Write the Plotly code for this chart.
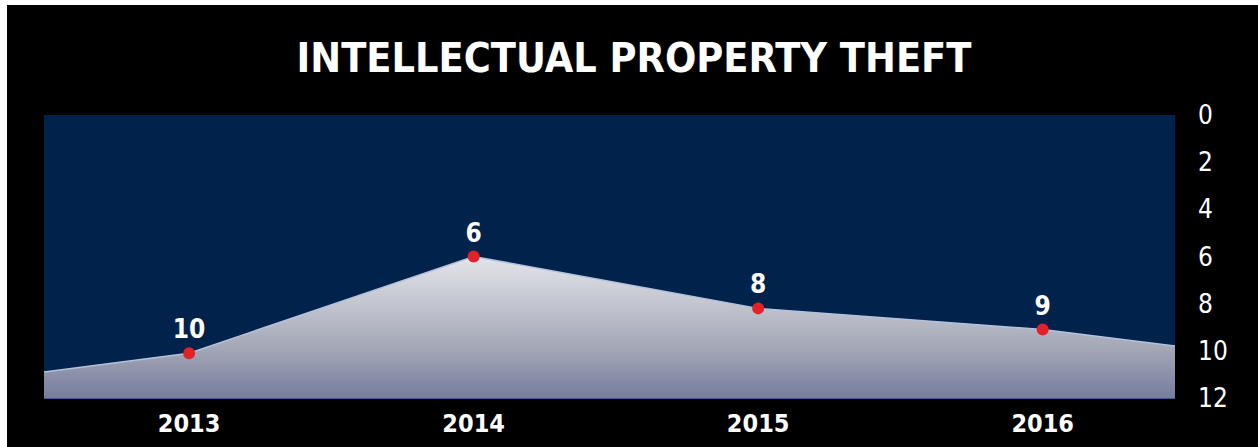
import plotly.graph_objects as go

# Data (y axis is reversed: 0 at top)
years = [2013, 2014, 2015, 2016]
values = [10.1, 6.0, 8.2, 9.1]
value_labels = ["10", "6", "8", "9"]
# line continues to the plot edges
edge_x = [2012.49, 2016.465]
edge_y = [10.9, 9.8]
y_ticks = [0, 2, 4, 6, 8, 10, 12]

line_x = [edge_x[0]] + years + [edge_x[1]]
line_y = [edge_y[0]] + values + [edge_y[1]]

FONT = "DejaVu Sans Condensed"

fig = go.Figure()

# baseline at the bottom of the reversed axis
fig.add_trace(go.Scatter(x=line_x, y=[12] * len(line_x), mode="lines",
                         line=dict(width=0), hoverinfo="skip", showlegend=False))

fig.add_trace(go.Scatter(
    x=line_x, y=line_y, mode="lines", fill="tonexty",
    line=dict(color="#b4c2dc", width=1.5),
    fillgradient=dict(type="vertical", start=12, stop=6,
                      colorscale=[[0, "#767d9e"], [0.35, "#a3a7b6"], [1, "#e4e5ea"]]),
    hoverinfo="skip", showlegend=False))

fig.add_trace(go.Scatter(
    x=years, y=values, mode="markers+text",
    marker=dict(color="#e3212b", size=12),
    text=value_labels, textposition="top center",
    textfont=dict(family=FONT, size=26, color="white", weight="bold"),
    showlegend=False))

fig.update_layout(
    width=1258, height=447,
    margin=dict(l=44, r=83, t=115, b=49, autoexpand=False),
    paper_bgcolor="black",
    plot_bgcolor="#00224b",
    title=dict(text="<b>INTELLECTUAL PROPERTY THEFT</b>", x=0.504, xref="container",
               y=0.872, yref="container", xanchor="center", yanchor="middle",
               font=dict(family=FONT, size=41, color="white")),
    xaxis=dict(range=[edge_x[0], edge_x[1]], tickvals=years,
               ticktext=[str(y) for y in years], showgrid=False, zeroline=False,
               showline=True, linecolor="#3d5d92", linewidth=1, ticks="",
               ticklabelstandoff=3, automargin=False,
               tickfont=dict(family=FONT, size=25, color="white", weight="bold")),
    yaxis=dict(range=[12, 0], side="right", tickvals=y_ticks, showgrid=False,
               zeroline=False, ticks="", ticklabelstandoff=22, automargin=False,
               tickfont=dict(family=FONT, size=26, color="white")),
    # thin white strips along the top and left edge of the picture
    shapes=[
        dict(type="rect", xref="paper", yref="paper", x0=-0.05, x1=1.1,
             y0=1.3887, y1=1.45, fillcolor="white", line=dict(width=0)),
        dict(type="rect", xref="paper", yref="paper", x0=-0.05, x1=-0.0327,
             y0=-0.2, y1=1.45, fillcolor="white", line=dict(width=0)),
    ],
)

fig.write_html("out.html", config={"displayModeBar": False},
               post_script="document.body.style.margin='0';")
